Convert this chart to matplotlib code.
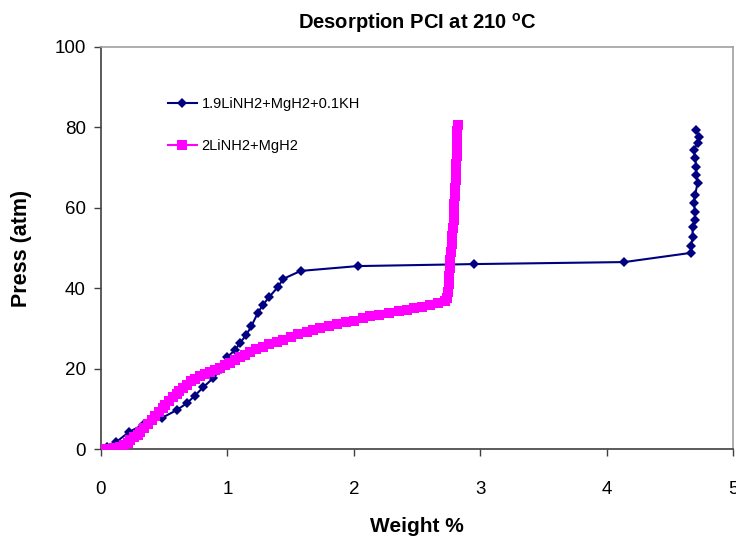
import matplotlib
matplotlib.use("Agg")
import matplotlib.pyplot as plt

plt.rcParams['font.family'] = ['Liberation Sans', 'DejaVu Sans']

title = r'Desorption PCI at 210 $^{\mathregular{o}}$C'
xlabel = 'Weight %'
ylabel = 'Press (atm)'
label_kh = '1.9LiNH2+MgH2+0.1KH'
label_ref = '2LiNH2+MgH2'
xticks = [0, 1, 2, 3, 4, 5]
yticks = [0, 20, 40, 60, 80, 100]

kh_x = [0, 0.05, 0.12, 0.22, 0.33, 0.48, 0.60, 0.68, 0.74, 0.81, 0.89, 0.95,
        1.00, 1.06, 1.10, 1.15, 1.19, 1.24, 1.28, 1.33, 1.40, 1.44, 1.58,
        2.03, 2.95, 4.14, 4.67, 4.67, 4.68, 4.68, 4.70, 4.70, 4.69, 4.70,
        4.72, 4.71, 4.71, 4.70, 4.69, 4.72, 4.73, 4.71]
kh_y = [0, 0.5, 1.7, 4.2, 6.0, 7.7, 9.7, 11.4, 13.2, 15.4, 17.7, 20.0,
        22.9, 24.6, 26.4, 28.4, 30.6, 33.8, 35.8, 37.8, 40.3, 42.3, 44.3,
        45.5, 46.0, 46.5, 48.8, 50.5, 52.7, 55.2, 57.0, 59.0, 61.2, 63.2,
        66.2, 68.2, 70.2, 72.4, 74.4, 76.1, 77.6, 79.4]

ref_x = [0, 0.02, 0.04, 0.07, 0.10, 0.13, 0.15, 0.18, 0.21, 0.23, 0.26, 0.29,
         0.31, 0.34, 0.37, 0.40, 0.43, 0.46, 0.49, 0.51, 0.54, 0.57, 0.60,
         0.62, 0.65, 0.68, 0.71, 0.74, 0.78, 0.82, 0.86, 0.90, 0.94, 0.98,
         1.02, 1.06, 1.10, 1.14, 1.18, 1.23, 1.28, 1.33, 1.39, 1.44, 1.50,
         1.56, 1.63, 1.68, 1.73, 1.80, 1.87, 1.94, 2.00, 2.07, 2.13, 2.20,
         2.28, 2.36, 2.42, 2.48, 2.54, 2.60, 2.67, 2.72, 2.74, 2.745, 2.75,
         2.755, 2.76, 2.765, 2.77, 2.775, 2.78, 2.785, 2.79, 2.79, 2.795,
         2.80, 2.80, 2.805, 2.81, 2.81, 2.815, 2.82, 2.82, 2.82, 2.825]
ref_y = [0, 0, 0.1, 0.1, 0.2, 0.3, 0.5, 1.0, 1.5, 2.2, 3.0, 3.6,
         4.3, 5.3, 6.3, 7.2, 8.2, 9.2, 10.2, 11.0, 12.0, 13.0, 13.8,
         14.4, 15.2, 16.0, 16.8, 17.4, 18.1, 18.6, 19.1, 19.6, 20.2, 20.8,
         21.5, 22.2, 22.9, 23.5, 24.1, 24.8, 25.4, 26.0, 26.6, 27.2, 27.9,
         28.5, 29.1, 29.7, 30.2, 30.7, 31.1, 31.5, 31.9, 32.5, 33.0, 33.4,
         33.8, 34.3, 34.7, 35.1, 35.4, 35.8, 36.3, 36.8, 37.6, 39.0, 41.0,
         43.0, 45.0, 47.0, 49.0, 51.0, 53.0, 55.0, 57.0, 59.0, 61.0,
         63.0, 65.0, 67.0, 69.0, 71.0, 73.0, 75.0, 77.0, 79.0, 80.5]

fig = plt.figure(figsize=(7.36, 5.39), dpi=100)
ax = fig.add_axes([101/736, 1 - 449/539, 632/736, 402/539])

ax.plot(kh_x, kh_y, color='#000080', lw=1.5, marker='D', markersize=5.5,
        markeredgewidth=0, label=label_kh, zorder=3)
ax.plot(ref_x, ref_y, color='#FF00FF', lw=1.5, marker='s', markersize=6.8,
        markeredgewidth=0, label=label_ref, zorder=4)

ax.set_xlim(0, 5)
ax.set_ylim(0, 100)
ax.set_xticks(xticks)
ax.set_yticks(yticks)
ax.tick_params(axis='both', direction='out', length=5, width=1, color='#404040',
               labelsize=13.5)
ax.tick_params(axis='x', pad=18)
ax.tick_params(axis='y', pad=6)

for side in ['left', 'bottom']:
    ax.spines[side].set_color('#404040')
    ax.spines[side].set_linewidth(1.2)
for side in ['top', 'right']:
    ax.spines[side].set_color('#a0a0a0')
    ax.spines[side].set_linewidth(1.2)

ax.set_title(title, fontsize=14.5, fontweight='bold', pad=13)
ax.set_xlabel(xlabel, fontsize=15, fontweight='bold', labelpad=14)
ax.set_ylabel(ylabel, fontsize=15.5, fontweight='bold', labelpad=16)

leg = ax.legend(loc='upper left', bbox_to_anchor=(0.085, 0.908), frameon=False,
                fontsize=10.5, handlelength=2.0, labelspacing=1.9,
                handletextpad=0.3)

fig.savefig('out.png', dpi=100, facecolor='white')
